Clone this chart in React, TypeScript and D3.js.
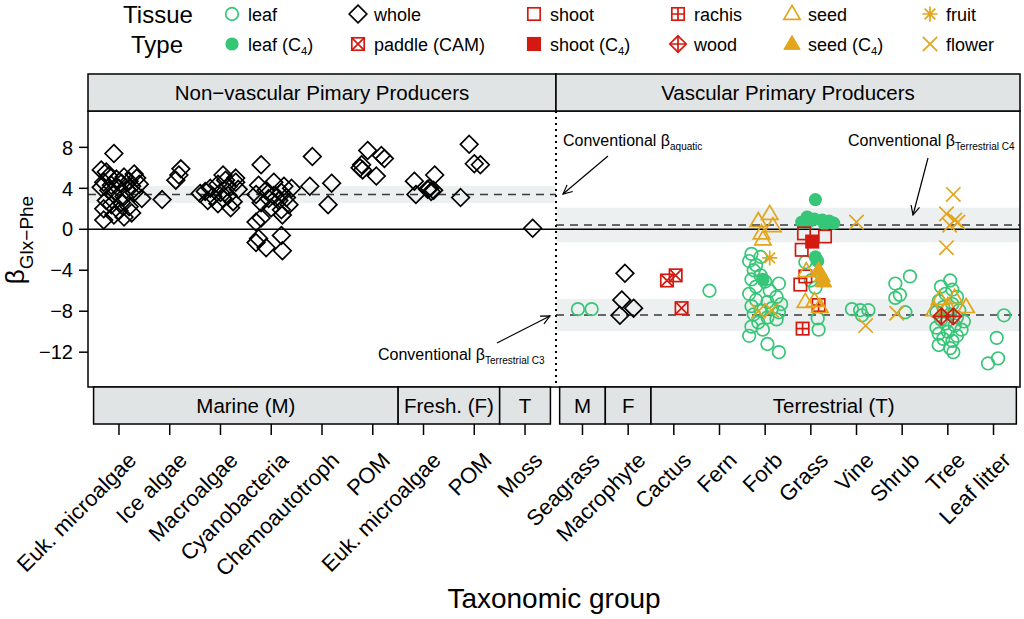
import React from 'react'
import * as d3 from 'd3'

// [tissue, beta value, horizontal jitter in category steps]
type Pt = [string, number, number]

const leftKeys = ['eukM', 'ice', 'macro', 'cyano', 'chemo', 'pomM', 'eukF', 'pomF', 'moss']
const leftLabels = ['Euk. microalgae', 'Ice algae', 'Macroalgae', 'Cyanobacteria', 'Chemoautotroph', 'POM', 'Euk. microalgae', 'POM', 'Moss']
const rightKeys = ['Seagrass', 'Macrophyte', 'Cactus', 'Fern', 'Forb', 'Grass', 'Vine', 'Shrub', 'Tree', 'Leaf litter']

const leftHabitats: [string, number, number][] = [['Marine (M)', 0, 5], ['Fresh. (F)', 6, 7], ['T', 8, 8]]
const rightHabitats: [string, number, number][] = [['M', 0, 0], ['F', 1, 1], ['Terrestrial (T)', 2, 9]]

const yTicks = [8, 4, 0, -4, -8, -12]

// conventional beta: [centre, half width of band]
const leftRefs = [[3.4, 0.83]]
const rightRefs = [[0.42, 1.69], [-8.37, 1.56]]

const eukMicroalgaeM: Pt[] = [
  ['whole', 7.4, -0.1], ['whole', 5.8, -0.35], ['whole', 5.6, -0.25], ['whole', 5.4, 0.3], ['whole', 5.2, -0.2],
  ['whole', 5.1, 0.1], ['whole', 5.0, 0.35], ['whole', 4.9, -0.05], ['whole', 4.7, 0.2], ['whole', 4.6, -0.3],
  ['whole', 4.5, 0.05], ['whole', 4.4, 0.4], ['whole', 4.3, -0.15], ['whole', 4.2, 0.25], ['whole', 4.1, -0.35],
  ['whole', 4.0, 0.0], ['whole', 3.9, 0.15], ['whole', 3.8, -0.2], ['whole', 3.6, 0.3], ['whole', 3.4, -0.1],
  ['whole', 3.2, 0.1], ['whole', 3.0, 0.45], ['whole', 2.8, -0.25], ['whole', 2.6, 0.05], ['whole', 2.4, -0.15],
  ['whole', 2.2, 0.2], ['whole', 2.0, -0.3], ['whole', 1.8, 0.0], ['whole', 1.6, 0.25], ['whole', 1.4, -0.1],
  ['whole', 1.2, 0.1], ['whole', 0.9, -0.3],
]
const iceAlgae: Pt[] = [['whole', 2.9, -0.15], ['whole', 4.8, 0.12], ['whole', 5.3, 0.18], ['whole', 5.9, 0.22]]
const macroalgae: Pt[] = [
  ['whole', 5.3, 0.05], ['whole', 5.0, 0.3], ['whole', 4.8, 0.1], ['whole', 4.6, 0.3], ['whole', 4.4, -0.05],
  ['whole', 4.2, 0.15], ['whole', 4.0, -0.2], ['whole', 3.9, 0.35], ['whole', 3.7, -0.3], ['whole', 3.6, 0.0],
  ['whole', 3.5, -0.4], ['whole', 3.3, 0.15], ['whole', 3.2, -0.15], ['whole', 3.0, 0.05], ['whole', 2.8, -0.25],
  ['whole', 2.7, 0.25], ['whole', 2.5, -0.05], ['whole', 2.1, 0.2],
]
const cyanobacteria: Pt[] = [
  ['whole', 6.3, -0.2], ['whole', 4.6, 0.05], ['whole', 4.3, -0.25], ['whole', 4.2, 0.25], ['whole', 4.0, 0.4],
  ['whole', 3.8, -0.1], ['whole', 3.6, 0.2], ['whole', 3.4, -0.3], ['whole', 3.3, 0.05], ['whole', 3.1, 0.3],
  ['whole', 3.0, -0.05], ['whole', 2.8, 0.15], ['whole', 2.6, -0.2], ['whole', 2.4, 0.35], ['whole', 2.1, 0.0],
  ['whole', 1.9, 0.2], ['whole', 1.4, 0.22], ['whole', 1.1, -0.2], ['whole', 0.7, -0.3], ['whole', -0.6, 0.2],
  ['whole', -0.9, -0.25], ['whole', -1.3, -0.3], ['whole', -1.8, -0.1], ['whole', -2.1, 0.22],
]
const chemoautotroph: Pt[] = [['whole', 7.1, -0.19], ['whole', 4.2, -0.24], ['whole', 4.5, 0.19], ['whole', 2.4, 0.12]]
const pomM: Pt[] = [
  ['whole', 7.7, -0.1], ['whole', 7.2, 0.17], ['whole', 6.9, 0.23], ['whole', 6.3, -0.22],
  ['whole', 6.0, -0.25], ['whole', 5.8, -0.2], ['whole', 5.2, 0.07],
]
const eukMicroalgaeF: Pt[] = [
  ['whole', 4.7, -0.18], ['whole', 5.3, 0.22], ['whole', 3.4, -0.15], ['whole', 4.0, 0.12],
  ['whole', 3.7, 0.15], ['whole', 3.9, 0.08], ['whole', 3.8, 0.2],
]
const pomF: Pt[] = [['whole', 8.3, -0.1], ['whole', 6.4, 0.0], ['whole', 6.3, 0.12], ['whole', 3.1, -0.27]]
const moss: Pt[] = [['whole', 0.1, 0.15]]

const seagrass: Pt[] = [['leaf', -7.8, -0.1], ['leaf', -7.8, 0.2]]
const macrophyte: Pt[] = [['whole', -4.3, -0.07], ['whole', -6.9, -0.14], ['whole', -7.7, 0.12], ['whole', -8.4, -0.18]]
const cactus: Pt[] = [['paddle', -4.5, 0.04], ['paddle', -5.0, -0.15], ['paddle', -7.7, 0.17]]
const fern: Pt[] = [['leaf', -6.0, -0.22]]
const forb: Pt[] = [
  ['leaf', -2.4, -0.3], ['leaf', -2.7, -0.1], ['leaf', -3.1, -0.35], ['leaf', -3.5, -0.2], ['leaf', -4.0, -0.25],
  ['leaf', -4.5, -0.1], ['leaf', -4.9, -0.3], ['leaf', -5.1, 0.0], ['leaf', -5.3, 0.3], ['leaf', -5.6, -0.2],
  ['leaf', -6.0, 0.1], ['leaf', -6.3, -0.35], ['leaf', -6.6, 0.25], ['leaf', -6.9, -0.2], ['leaf', -7.1, 0.05],
  ['leaf', -7.3, 0.35], ['leaf', -7.5, -0.3], ['leaf', -7.7, 0.15], ['leaf', -7.9, -0.1], ['leaf', -8.1, 0.3],
  ['leaf', -8.3, -0.25], ['leaf', -8.6, 0.05], ['leaf', -8.8, 0.25], ['leaf', -9.1, -0.15], ['leaf', -9.5, -0.3],
  ['leaf', -9.8, -0.05], ['leaf', -10.4, -0.35], ['leaf', -11.2, 0.05], ['leaf', -12.0, 0.3],
  ['leafC4', -4.9, -0.05],
  ['seed', 1.5, 0.1], ['seed', 0.8, -0.15], ['seed', 0.3, 0.17], ['seed', -0.4, -0.08], ['seed', -1.0, -0.05],
  ['fruit', -2.8, 0.1],
  ['flower', -8.0, -0.15], ['flower', -7.9, 0.14],
]
const grass: Pt[] = [
  ['leafC4', 2.9, 0.1], ['leafC4', 1.2, -0.08], ['leafC4', 1.0, 0.08], ['leafC4', 0.9, 0.25], ['leafC4', 0.8, 0.4],
  ['leafC4', 0.7, -0.2], ['leafC4', 0.6, 0.5], ['leafC4', 0.7, -0.05], ['leafC4', 0.5, 0.3], ['leafC4', -2.7, 0.1],
  ['leafC4', -3.1, 0.15],
  ['leaf', -3.2, -0.12], ['leaf', -5.0, 0.0], ['leaf', -5.7, 0.1], ['leaf', -8.7, 0.15], ['leaf', -9.8, 0.17],
  ['shoot', -0.4, -0.15], ['shoot', -0.7, 0.31], ['shoot', -2.0, -0.2], ['shoot', -4.6, -0.12], ['shoot', -5.4, -0.23],
  ['shootC4', -1.2, 0.03],
  ['rachis', -7.4, 0.17], ['rachis', -9.7, -0.18],
  ['seed', -4.1, -0.1], ['seed', -7.1, -0.12], ['seed', -7.0, 0.08], ['seed', -7.6, 0.2],
  ['seedC4', -4.0, 0.17], ['seedC4', -4.6, 0.25], ['seedC4', -5.1, 0.28],
]
const vine: Pt[] = [
  ['leaf', -7.8, -0.1], ['leaf', -7.9, 0.08], ['leaf', -7.9, 0.26], ['leaf', -8.4, 0.12],
  ['flower', 0.7, 0.0], ['flower', -9.4, 0.2],
]
const shrub: Pt[] = [
  ['leaf', -4.6, 0.17], ['leaf', -5.3, -0.15], ['leaf', -6.4, -0.05], ['leaf', -6.7, -0.15], ['leaf', -8.1, 0.07],
  ['flower', -8.2, -0.12],
]
const tree: Pt[] = [
  ['leaf', -5.0, 0.05], ['leaf', -5.6, -0.15], ['leaf', -5.9, 0.1], ['leaf', -6.3, -0.05], ['leaf', -6.6, 0.2],
  ['leaf', -7.0, -0.2], ['leaf', -7.3, 0.1], ['leaf', -7.6, -0.1], ['leaf', -7.9, 0.25], ['leaf', -8.1, -0.25],
  ['leaf', -8.3, 0.05], ['leaf', -8.6, 0.2], ['leaf', -8.8, -0.15], ['leaf', -9.0, 0.35], ['leaf', -9.2, -0.05],
  ['leaf', -9.4, 0.15], ['leaf', -9.6, -0.25], ['leaf', -9.8, 0.3], ['leaf', -10.0, 0.0], ['leaf', -10.2, -0.2],
  ['leaf', -10.4, 0.2], ['leaf', -10.7, -0.1], ['leaf', -10.9, 0.1], ['leaf', -11.3, -0.2], ['leaf', -11.6, 0.05],
  ['leaf', -12.0, 0.12],
  ['seed', -6.8, -0.18], ['seed', -6.7, 0.15], ['seed', -7.6, 0.4], ['seed', -7.9, -0.3], ['seed', -7.5, 0.0],
  ['wood', -8.5, -0.14], ['wood', -8.5, 0.12],
  ['flower', 3.4, 0.12], ['flower', 1.5, -0.03], ['flower', 0.9, 0.15], ['flower', 0.7, 0.22], ['flower', 0.4, 0.04],
  ['flower', -1.8, -0.03],
]
const leafLitter: Pt[] = [['leaf', -8.4, 0.23], ['leaf', -10.6, 0.07], ['leaf', -12.6, 0.1], ['leaf', -13.1, -0.12]]

const leftData: Pt[][] = [eukMicroalgaeM, iceAlgae, macroalgae, cyanobacteria, chemoautotroph, pomM, eukMicroalgaeF, pomF, moss]
const rightData: Pt[][] = [seagrass, macrophyte, cactus, fern, forb, grass, vine, shrub, tree, leafLitter]

const legendTop = ['leaf', 'whole', 'shoot', 'rachis', 'seed', 'fruit']
const legendBottom = ['leafC4', 'paddle', 'shootC4', 'wood', 'seedC4', 'flower']
const legendTopText = ['leaf', 'whole', 'shoot', 'rachis', 'seed', 'fruit']
const legendBottomText = ['leaf (C4)', 'paddle (CAM)', 'shoot (C4)', 'wood', 'seed (C4)', 'flower']
const legendX = [232, 358, 534, 678, 792, 930]

const drawOrder = ['leaf', 'leafC4', 'whole', 'paddle', 'shoot', 'shootC4', 'rachis', 'seed', 'seedC4', 'wood', 'fruit', 'flower']

const GREEN = '#36c677'
const RED = '#d41a10'
const GOLD = '#e3a51c'
const STRIP = '#e0e4e4'
const BAND = '#edf0f0'
const FONT = "'Liberation Sans', Arial, Helvetica, sans-serif"

const plotL = 88
const plotR = 1020
const divX = 556
const stripTop = 74
const plotTop = 111
const plotBot = 387
const stripBot = 424

const y = d3.scaleLinear().domain([-15.4, 11.55]).range([plotBot, plotTop])
const xLeft = d3.scalePoint<string>().domain(leftKeys).range([plotL, divX]).padding(0.61)
const xRight = d3.scalePoint<string>().domain(rightKeys).range([divX, plotR]).padding(0.58)

function marker(t: string, x: number, cy: number, key: string | number) {
  const sw = 1.7
  const sq = 6.2
  const rect = (color: string, fill: string) => (
    <rect x={x - sq} y={cy - sq} width={sq * 2} height={sq * 2} fill={fill} stroke={color} strokeWidth={sw} />
  )
  const dia = (h: number) => `M${x},${cy - h}L${x + h},${cy}L${x},${cy + h}L${x - h},${cy}Z`
  const tri = `M${x},${cy - 8.6}L${x + 8.2},${cy + 5.4}L${x - 8.2},${cy + 5.4}Z`
  switch (t) {
    case 'leaf':
      return <circle key={key} cx={x} cy={cy} r={6.3} fill="none" stroke={GREEN} strokeWidth={sw} />
    case 'leafC4':
      return <circle key={key} cx={x} cy={cy} r={6.6} fill={GREEN} />
    case 'whole':
      return <path key={key} d={dia(8.8)} fill="none" stroke="#000" strokeWidth={sw} />
    case 'shoot':
      return <g key={key}>{rect(RED, 'none')}</g>
    case 'shootC4':
      return <g key={key}>{rect(RED, RED)}</g>
    case 'rachis':
      return (
        <g key={key} stroke={RED} strokeWidth={sw}>
          {rect(RED, 'none')}
          <path d={`M${x - sq},${cy}H${x + sq}M${x},${cy - sq}V${cy + sq}`} />
        </g>
      )
    case 'paddle':
      return (
        <g key={key} stroke={RED} strokeWidth={sw}>
          {rect(RED, 'none')}
          <path d={`M${x - sq},${cy - sq}L${x + sq},${cy + sq}M${x + sq},${cy - sq}L${x - sq},${cy + sq}`} />
        </g>
      )
    case 'wood':
      return (
        <g key={key} stroke={RED} strokeWidth={sw} fill="none">
          <path d={dia(8.2)} />
          <path d={`M${x - 8.2},${cy}H${x + 8.2}M${x},${cy - 8.2}V${cy + 8.2}`} />
        </g>
      )
    case 'seed':
      return <path key={key} d={tri} fill="none" stroke={GOLD} strokeWidth={sw} />
    case 'seedC4':
      return <path key={key} d={tri} fill={GOLD} stroke={GOLD} strokeWidth={1} />
    case 'fruit': {
      const a = 7.5
      const b = 5.3
      return (
        <path key={key} stroke={GOLD} strokeWidth={sw}
          d={`M${x - a},${cy}H${x + a}M${x},${cy - a}V${cy + a}M${x - b},${cy - b}L${x + b},${cy + b}M${x + b},${cy - b}L${x - b},${cy + b}`} />
      )
    }
    case 'flower': {
      const a = 7.2
      return (
        <path key={key} stroke={GOLD} strokeWidth={sw}
          d={`M${x - a},${cy - a}L${x + a},${cy + a}M${x + a},${cy - a}L${x - a},${cy + a}`} />
      )
    }
    default:
      return null
  }
}

function arrow(x1: number, y1: number, x2: number, y2: number) {
  const a = Math.atan2(y2 - y1, x2 - x1)
  const L = 10
  const s = Math.PI / 7
  const p1 = [x2 - L * Math.cos(a - s), y2 - L * Math.sin(a - s)]
  const p2 = [x2 - L * Math.cos(a + s), y2 - L * Math.sin(a + s)]
  return (
    <g stroke="#000" strokeWidth={1.2} fill="none">
      <line x1={x1} y1={y1} x2={x2} y2={y2} />
      <path d={`M${p1[0]},${p1[1]}L${x2},${y2}L${p2[0]},${p2[1]}`} />
    </g>
  )
}

function subLabel(text: string, size: number) {
  const i = text.indexOf('C4')
  if (i < 0) return text
  return (
    <>
      {text.slice(0, i + 1)}
      <tspan fontSize={size * 0.62} dy={4}>4</tspan>
      <tspan dy={-4}>{text.slice(i + 2)}</tspan>
    </>
  )
}

function convLabel(x: number, yb: number, sub: string) {
  return (
    <text x={x} y={yb} fontSize={16} fontFamily={FONT}>
      Conventional β<tspan fontSize={10} dy={4}>{sub}</tspan>
    </text>
  )
}

export default function App() {
  const panels = [
    { x: xLeft, keys: leftKeys, data: leftData, refs: leftRefs, x0: plotL, x1: divX, habitats: leftHabitats },
    { x: xRight, keys: rightKeys, data: rightData, refs: rightRefs, x0: divX, x1: plotR, habitats: rightHabitats },
  ]

  const points: { t: string; cx: number; cy: number; order: number }[] = []
  panels.forEach((p) => {
    p.keys.forEach((k, i) => {
      p.data[i].forEach(([t, v, j]) => {
        points.push({ t, cx: (p.x(k) as number) + j * p.x.step(), cy: y(v), order: drawOrder.indexOf(t) })
      })
    })
  })
  points.sort((a, b) => a.order - b.order)

  const tickLabels = [
    ...leftKeys.map((k, i) => ({ x: xLeft(k) as number, label: leftLabels[i] })),
    ...rightKeys.map((k) => ({ x: xRight(k) as number, label: k })),
  ]

  return (
    <svg width={1024} height={619} style={{ position: 'absolute', left: 0, top: 0, background: '#fff' }} fontFamily={FONT}>
      {/* legend */}
      <text x={158} y={23} fontSize={24} textAnchor="middle">Tissue</text>
      <text x={157} y={53} fontSize={24} textAnchor="middle">Type</text>
      {legendX.map((lx, i) => (
        <g key={'lg' + i}>
          {marker(legendTop[i], lx, 14, 'a')}
          {marker(legendBottom[i], lx, 44, 'b')}
          <text x={lx + 16} y={20.5} fontSize={18}>{legendTopText[i]}</text>
          <text x={lx + 16} y={50.5} fontSize={18}>{subLabel(legendBottomText[i], 18)}</text>
        </g>
      ))}

      {/* bands and reference lines */}
      {panels.map((p, pi) =>
        p.refs.map(([c, h], ri) => (
          <g key={`ref${pi}${ri}`}>
            <rect x={p.x0} y={y(c + h)} width={p.x1 - p.x0} height={y(c - h) - y(c + h)} fill={BAND} />
            <line x1={p.x0} x2={p.x1} y1={y(c)} y2={y(c)} stroke="#3a3a3a" strokeWidth={1.6} strokeDasharray="8 6" />
          </g>
        )),
      )}
      <line x1={plotL} x2={plotR} y1={y(0)} y2={y(0)} stroke="#000" strokeWidth={1.5} />

      {/* points */}
      {points.map((d, i) => marker(d.t, d.cx, d.cy, i))}

      {/* divider */}
      <line x1={divX} x2={divX} y1={plotTop} y2={plotBot} stroke="#000" strokeWidth={2} strokeDasharray="2 4" />
      <rect x={plotL} y={plotTop} width={plotR - plotL} height={plotBot - plotTop} fill="none" stroke="#000" strokeWidth={1.5} />

      {/* strips */}
      <rect x={plotL} y={stripTop} width={divX - plotL} height={plotTop - stripTop} fill={STRIP} stroke="#000" strokeWidth={1.5} />
      <rect x={divX} y={stripTop} width={plotR - divX} height={plotTop - stripTop} fill={STRIP} stroke="#000" strokeWidth={1.5} />
      <text x={(plotL + divX) / 2} y={100} fontSize={20.5} textAnchor="middle">Non−vascular Pimary Producers</text>
      <text x={(divX + plotR) / 2} y={100} fontSize={20.5} textAnchor="middle">Vascular Primary Producers</text>
      {panels.map((p, pi) =>
        p.habitats.map(([label, a, b], hi) => {
          const st = p.x.step()
          const xa = Math.max(p.x0, (p.x(p.keys[a]) as number) - st / 2)
          const xb = Math.min(p.x1, (p.x(p.keys[b]) as number) + st / 2)
          return (
            <g key={`hab${pi}${hi}`}>
              <rect x={xa} y={plotBot} width={xb - xa} height={stripBot - plotBot} fill={STRIP} stroke="#000" strokeWidth={1.5} />
              <text x={(xa + xb) / 2} y={413} fontSize={20.5} textAnchor="middle">{label}</text>
            </g>
          )
        }),
      )}

      {/* y axis */}
      {yTicks.map((t) => (
        <g key={'yt' + t}>
          <line x1={plotL - 9} x2={plotL} y1={y(t)} y2={y(t)} stroke="#000" strokeWidth={1.5} />
          <text x={73} y={y(t)} dy="0.36em" fontSize={20} textAnchor="end">{t < 0 ? `−${-t}` : t}</text>
        </g>
      ))}
      <text transform={`translate(24,240) rotate(-90)`} fontSize={26} textAnchor="middle">
        β<tspan fontSize={19} dy={9}>Glx−Phe</tspan>
      </text>

      {/* x axis */}
      {tickLabels.map((d, i) => (
        <g key={'xt' + i}>
          <line x1={d.x} x2={d.x} y1={stripBot} y2={stripBot + 11} stroke="#000" strokeWidth={1.5} />
          <text transform={`translate(${d.x + 7},450) rotate(-45)`} dy="0.75em" fontSize={22} textAnchor="end">{d.label}</text>
        </g>
      ))}
      <text x={(plotL + plotR) / 2} y={608} fontSize={28} textAnchor="middle">Taxonomic group</text>

      {/* annotations */}
      {convLabel(563, 146, 'aquatic')}
      {arrow(608, 156, 563, 194)}
      {convLabel(848, 146, 'Terrestrial C4')}
      {arrow(928, 158, 913, 215)}
      {convLabel(378, 360, 'Terrestrial C3')}
      {arrow(497, 343, 550, 316)}
    </svg>
  )
}
